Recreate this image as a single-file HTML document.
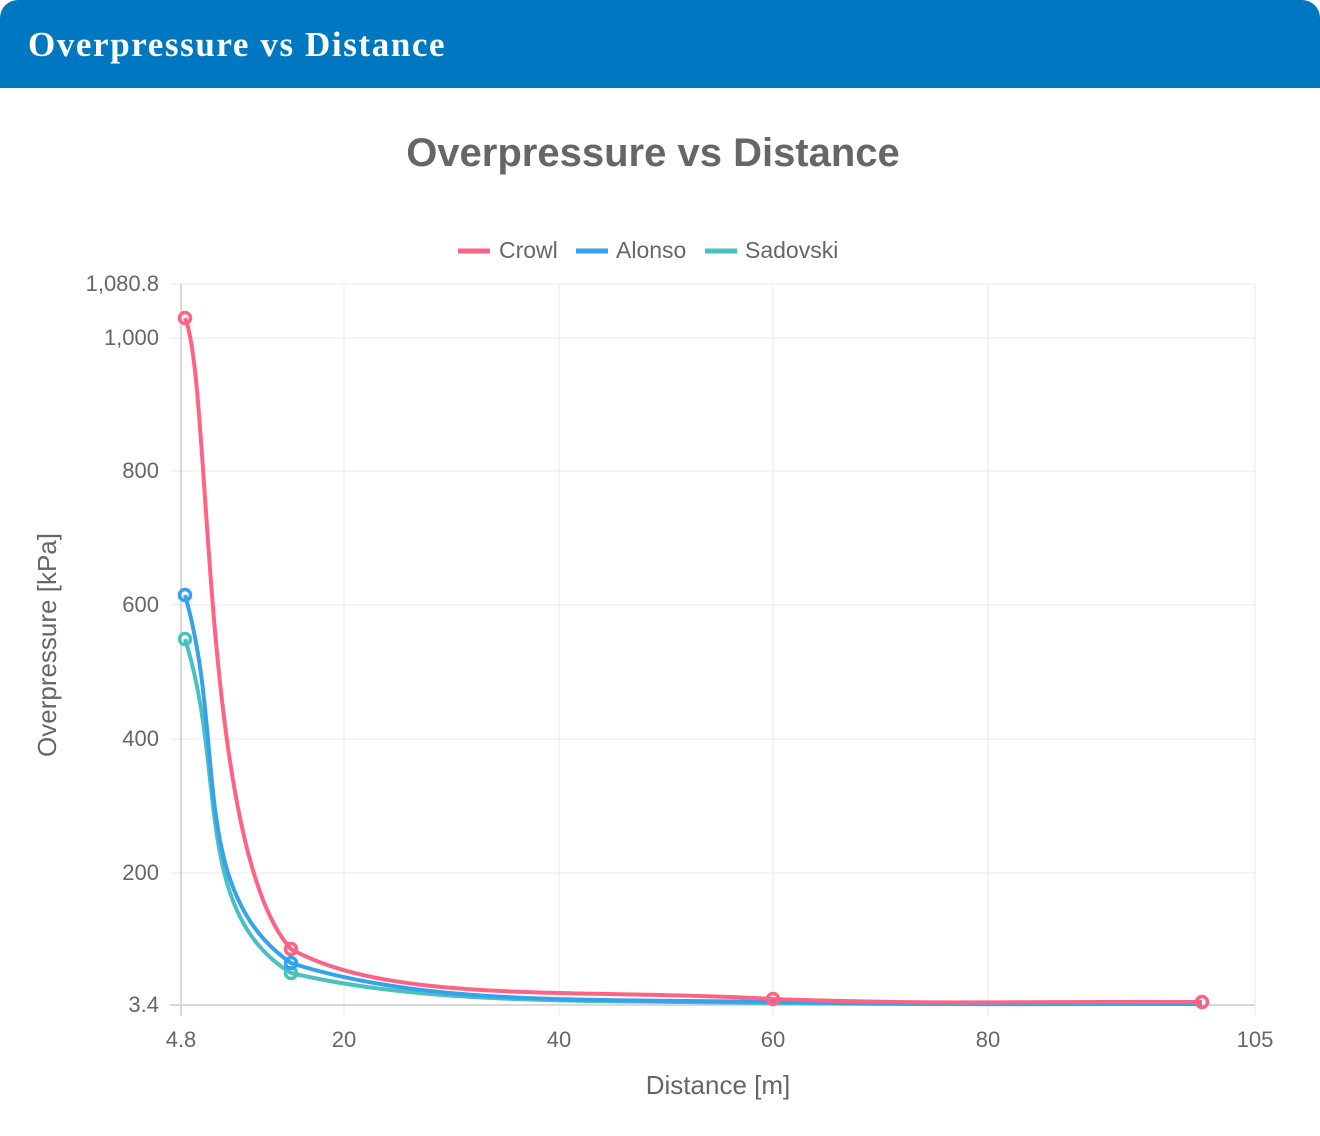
<!DOCTYPE html>
<html><head><meta charset="utf-8"><style>
body{margin:0;width:1320px;height:1136px;background:#fff;overflow:hidden;font-family:"Liberation Sans",sans-serif}
.bar{position:absolute;left:0;top:0;width:1320px;height:88px;background:#0078c1;border-radius:18px 18px 0 0}
.bar span{position:absolute;left:28px;top:25px;font-family:"Liberation Serif",serif;font-weight:bold;font-size:35px;letter-spacing:1.6px;color:#fff}
</style></head><body>
<div class="bar"><span>Overpressure vs Distance</span></div>
<svg width="1320" height="1136" style="position:absolute;left:0;top:0">
<text x="653" y="166" text-anchor="middle" font-size="40" font-weight="bold" fill="#666">Overpressure vs Distance</text>
<g font-size="23" fill="#666">
<line x1="458" y1="251" x2="490" y2="251" stroke="#ff6384" stroke-width="5"/><text x="499" y="258">Crowl</text>
<line x1="576" y1="251" x2="608" y2="251" stroke="#36a2eb" stroke-width="5"/><text x="616" y="258">Alonso</text>
<line x1="705" y1="251" x2="737" y2="251" stroke="#4bc0c0" stroke-width="5"/><text x="745" y="258">Sadovski</text>
</g>
<g stroke="#e8e8e8" stroke-width="1">
<line x1="170" y1="284" x2="1255" y2="284"/><line x1="170" y1="338" x2="1255" y2="338"/><line x1="170" y1="471" x2="1255" y2="471"/><line x1="170" y1="605" x2="1255" y2="605"/><line x1="170" y1="739" x2="1255" y2="739"/><line x1="170" y1="873" x2="1255" y2="873"/>
<line x1="344" y1="284" x2="344" y2="1016"/><line x1="559" y1="284" x2="559" y2="1016"/><line x1="773" y1="284" x2="773" y2="1016"/><line x1="988" y1="284" x2="988" y2="1016"/><line x1="1255" y1="284" x2="1255" y2="1016"/>
</g>
<line x1="181" y1="284" x2="181" y2="1016" stroke="#ccc" stroke-width="1.5"/>
<line x1="170" y1="1005" x2="1255" y2="1005" stroke="#ccc" stroke-width="1.5"/>
<g font-size="22" fill="#666" text-anchor="end">
<text x="159" y="291">1,080.8</text><text x="159" y="345">1,000</text><text x="159" y="478">800</text><text x="159" y="612">600</text><text x="159" y="746">400</text><text x="159" y="880">200</text><text x="159" y="1012">3.4</text>
</g>
<g font-size="22" fill="#666" text-anchor="middle">
<text x="181" y="1047">4.8</text><text x="344" y="1047">20</text><text x="559" y="1047">40</text><text x="773" y="1047">60</text><text x="988" y="1047">80</text><text x="1255" y="1047">105</text>
</g>
<text x="718" y="1094" text-anchor="middle" font-size="26" fill="#666">Distance [m]</text>
<text transform="translate(56,645) rotate(-90)" text-anchor="middle" font-size="26" fill="#666">Overpressure [kPa]</text>
<g fill="none" stroke-width="4">
<path d="M185,639 C227,773 192,912 291,973 C427,1005 580,1000 773,1003 C944,1005 1030,1004 1202,1004" stroke="#4bc0c0"/>
<path d="M185,595 C227,742 187,891 291,963 C422,1005 580,999 773,1002 C944,1005 1030,1003 1202,1004" stroke="#36a2eb"/>
<path d="M185,318 C212,380 200,850 291,949 C392,1005 580,988 773,999 C944,1005 1030,1001 1202,1002" stroke="#ff6384"/>
</g>
<g fill="none" stroke-width="3.5">
<circle cx="185" cy="639" r="5.5" stroke="#4bc0c0"/><circle cx="291" cy="973" r="5.5" stroke="#4bc0c0"/>
<circle cx="185" cy="595" r="5.5" stroke="#36a2eb"/><circle cx="291" cy="963" r="5.5" stroke="#36a2eb"/>
<circle cx="185" cy="318" r="5.5" stroke="#ff6384"/><circle cx="291" cy="949" r="5.5" stroke="#ff6384"/><circle cx="773" cy="999" r="5.5" stroke="#ff6384"/><circle cx="1202" cy="1002" r="5.5" stroke="#ff6384"/>
</g>
</svg>
</body></html>
